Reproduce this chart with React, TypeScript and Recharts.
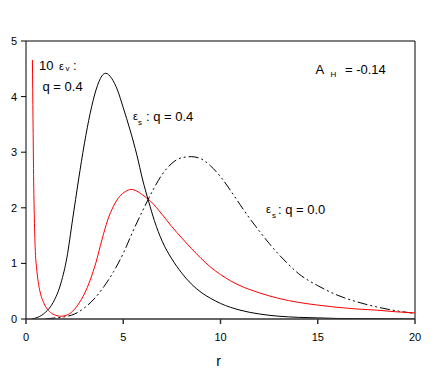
import React from 'react';
import { LineChart, Line, XAxis, YAxis, ReferenceLine } from 'recharts';

// eps_s, q = 0.4 (black solid)
const sq04R = [0.3, 0.6, 1.0, 1.4, 1.8, 2.1, 2.4, 2.7, 3.0, 3.3, 3.6, 3.9, 4.1, 4.4, 4.7, 5.0, 5.35, 5.7, 6.0, 6.3, 6.6, 7.0, 7.5, 8.0, 8.5, 9.0, 9.5, 10, 11, 12, 13, 14, 15, 16, 18, 20];
const sq04V = [0, 0.03, 0.12, 0.3, 0.65, 1.1, 1.8, 2.5, 3.15, 3.7, 4.12, 4.37, 4.42, 4.33, 4.12, 3.8, 3.4, 2.95, 2.5, 2.12, 1.77, 1.4, 1.08, 0.83, 0.63, 0.48, 0.37, 0.28, 0.16, 0.09, 0.05, 0.03, 0.02, 0.01, 0.005, 0];

// 10 eps_v, q = 0.4 (red)
const vq04R = [0.33, 0.36, 0.39, 0.43, 0.47, 0.55, 0.65, 0.75, 0.9, 1.05, 1.25, 1.5, 1.8, 2.1, 2.4, 2.7, 3.0, 3.3, 3.6, 3.9, 4.2, 4.5, 4.8, 5.1, 5.4, 5.7, 6.0, 6.4, 7.0, 7.5, 8.0, 8.5, 9.0, 9.5, 10, 10.5, 11, 11.5, 12, 13, 14, 15, 16, 17, 18, 19, 20];
const vq04V = [4.66, 3.6, 2.6, 1.8, 1.3, 0.9, 0.62, 0.45, 0.3, 0.2, 0.12, 0.07, 0.05, 0.07, 0.14, 0.27, 0.45, 0.7, 1.02, 1.42, 1.78, 2.03, 2.2, 2.29, 2.33, 2.3, 2.23, 2.12, 1.88, 1.66, 1.46, 1.27, 1.09, 0.93, 0.8, 0.69, 0.6, 0.53, 0.47, 0.37, 0.3, 0.25, 0.21, 0.18, 0.16, 0.13, 0.11];

// eps_s, q = 0.0 (dash-dot-dot)
const sq00R = [1.0, 1.5, 2.0, 2.5, 3.0, 3.5, 4.0, 4.5, 5.0, 5.5, 6.0, 6.5, 7.0, 7.5, 8.0, 8.5, 9.0, 9.5, 10, 10.5, 11, 11.5, 12, 12.5, 13, 13.5, 14, 15, 16, 17, 18, 19, 20];
const sq00V = [0, 0.02, 0.04, 0.09, 0.2, 0.36, 0.58, 0.85, 1.18, 1.58, 1.95, 2.3, 2.6, 2.8, 2.9, 2.92, 2.88, 2.75, 2.56, 2.32, 2.06, 1.81, 1.58, 1.36, 1.16, 0.98, 0.82, 0.6, 0.43, 0.31, 0.22, 0.15, 0.1];

const xTicks = [0, 5, 10, 15, 20];
const yTicks = [0, 1, 2, 3, 4, 5];

const zip = (xs: number[], ys: number[]) => xs.map((r, i) => ({ r, v: ys[i] }));

const FONT = '"Liberation Sans", Arial, sans-serif';

export default function App() {
  const tickStyle = { fontSize: 11, fill: '#000', fontFamily: FONT };
  return (
    <div style={{ position: 'absolute', left: 0, top: 0, width: 436, height: 371, background: '#fff' }}>
      <LineChart width={436} height={371} margin={{ top: 41, right: 21, bottom: 22, left: 0 }}>
        <XAxis
          type="number"
          dataKey="r"
          domain={[0, 20]}
          ticks={xTicks}
          allowDataOverflow
          height={30}
          tickSize={5}
          tickMargin={9}
          tick={tickStyle}
          stroke="#333"
          strokeWidth={1.5}
        />
        <YAxis
          type="number"
          domain={[0, 5]}
          ticks={yTicks}
          allowDataOverflow
          width={26}
          tickSize={5}
          tickMargin={4}
          tick={tickStyle}
          stroke="#000"
        />
        <ReferenceLine y={5} stroke="#000" />
        <ReferenceLine x={20} stroke="#000" />
        <Line data={zip(sq00R, sq00V)} dataKey="v" type="monotone" stroke="#000" strokeWidth={1}
          strokeDasharray="10 3 2 3 2 3" dot={false} isAnimationActive={false} />
        <Line data={zip(vq04R, vq04V)} dataKey="v" type="monotone" stroke="#ff0000" strokeWidth={1}
          dot={false} isAnimationActive={false} />
        <Line data={zip(sq04R, sq04V)} dataKey="v" type="monotone" stroke="#000" strokeWidth={1}
          dot={false} isAnimationActive={false} />
      </LineChart>
      <svg width={436} height={371} style={{ position: 'absolute', left: 0, top: 0, pointerEvents: 'none' }}
        fontFamily={FONT} fill="#000">
        <text x={39} y={69.5} fontSize={13}>10</text>
        <text x={59} y={69.5} fontSize={11}>ε</text>
        <text x={65.5} y={71} fontSize={8}>v</text>
        <text x={73} y={69.5} fontSize={13}>:</text>
        <text x={42.5} y={91} fontSize={13}>q = 0.4</text>

        <text x={133} y={119.5} fontSize={11}>ε</text>
        <text x={138} y={125} fontSize={8}>s</text>
        <text x={146} y={120.5} fontSize={13}>: q = 0.4</text>

        <text x={315.5} y={73.5} fontSize={13}>A</text>
        <text x={330.5} y={76.5} fontSize={8}>H</text>
        <text x={345} y={73.5} fontSize={13}>= -0.14</text>

        <text x={266} y={213} fontSize={11}>ε</text>
        <text x={272} y={218} fontSize={8}>s</text>
        <text x={278} y={213.5} fontSize={13}>: q = 0.0</text>

        <text x={218.5} y={366} fontSize={14} textAnchor="middle">r</text>
      </svg>
    </div>
  );
}
